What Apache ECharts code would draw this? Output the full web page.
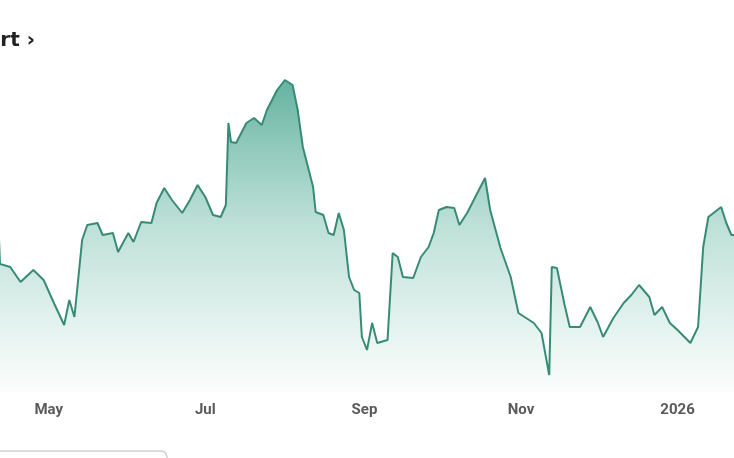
<!DOCTYPE html>
<html>
<head>
<meta charset="utf-8">
<script src="https://cdn.jsdelivr.net/npm/echarts@6/dist/echarts.min.js"></script>
<style>
  html, body { margin: 0; padding: 0; background: #ffffff; }
  #chart { width: 734px; height: 458px; }
</style>
</head>
<body>
<div id="chart"></div>
<script>
// ---- Data ----
const dates = [
  '2025-04-11','2025-04-12','2025-04-16','2025-04-20','2025-04-25','2025-04-29',
  '2025-05-03','2025-05-07','2025-05-09','2025-05-11','2025-05-14','2025-05-16',
  '2025-05-20','2025-05-22','2025-05-26','2025-05-28','2025-06-01','2025-06-03',
  '2025-06-06','2025-06-10','2025-06-12','2025-06-15','2025-06-18','2025-06-22',
  '2025-06-25','2025-06-28','2025-07-01','2025-07-04','2025-07-07','2025-07-09',
  '2025-07-10','2025-07-11','2025-07-13','2025-07-17','2025-07-20','2025-07-23',
  '2025-07-25','2025-07-29','2025-08-01','2025-08-04','2025-08-06','2025-08-08',
  '2025-08-12','2025-08-13','2025-08-16','2025-08-18','2025-08-20','2025-08-22',
  '2025-08-24','2025-08-26','2025-08-28','2025-08-30','2025-08-31','2025-09-02',
  '2025-09-04','2025-09-06','2025-09-10','2025-09-12','2025-09-14','2025-09-16',
  '2025-09-20','2025-09-23','2025-09-26','2025-09-28','2025-09-30','2025-10-03',
  '2025-10-06','2025-10-08','2025-10-11','2025-10-15','2025-10-18','2025-10-20',
  '2025-10-24','2025-10-28','2025-10-31','2025-11-03','2025-11-06','2025-11-09',
  '2025-11-12','2025-11-13','2025-11-15','2025-11-18','2025-11-20','2025-11-24',
  '2025-11-28','2025-12-01','2025-12-03','2025-12-07','2025-12-11','2025-12-14',
  '2025-12-17','2025-12-21','2025-12-23','2025-12-26','2025-12-29','2026-01-01',
  '2026-01-06','2026-01-09','2026-01-11','2026-01-13','2026-01-18','2026-01-20',
  '2026-01-22','2026-01-24'
];
const prices = [
  96, 64, 62.5, 55, 61, 56,
  44.5, 33.5, 46, 37.5, 76, 83.5,
  84.5, 78.5, 79.5, 70, 79.5, 75,
  85, 84.5, 94.5, 102, 96, 89.5,
  96, 103.5, 97.5, 88.5, 87.5, 93.5,
  134.5, 125, 124.5, 134.5, 137, 133.5,
  141, 151, 156, 153.5, 141, 122.5,
  102.5, 90, 88.5, 79.5, 78.5, 89.5,
  81, 57.5, 51, 49.5, 27.5, 21,
  34.5, 24.5, 26, 69.5, 67.5, 57.5,
  57, 67.5, 72.5, 79.5, 91, 92.5,
  92, 83.5, 89.5, 99.5, 107, 91,
  72, 57.5, 39.5, 37, 34.5, 29.5,
  8.5, 62.5, 62, 43.5, 32.5, 32.5,
  42.5, 34.5, 27.5, 37, 44.5, 48.5,
  53.5, 47.5, 38.5, 42.5, 34.5, 31,
  24.5, 32.5, 72.5, 87.5, 92.5, 84.5,
  78.5, 78.5
];
const tickDates = ['2025-05-01', '2025-07-01', '2025-09-01', '2025-11-01', '2026-01-01'];
const tickLabels = ['May', 'Jul', 'Sep', 'Nov', '2026'];
const viewStart = '2025-04-12';
const viewEnd = '2026-01-23';
const titleText = 'Chart \u203A';

function toTime(s) {
  const p = s.split('-').map(Number);
  return Date.UTC(p[0], p[1] - 1, p[2]);
}
const tickTimes = tickDates.map(toTime);
const seriesData = dates.map((d, i) => [toTime(d), prices[i]]);

const chart = echarts.init(document.getElementById('chart'), null, { renderer: 'canvas' });
chart.setOption({
  animation: false,
  backgroundColor: '#ffffff',
  grid: { left: 0, right: 0, top: 40, bottom: 66, containLabel: false },
  xAxis: {
    type: 'value',
    min: toTime(viewStart),
    max: toTime(viewEnd),
    axisLine: { show: false },
    axisTick: { show: false },
    splitLine: { show: false },
    axisLabel: {
      customValues: tickTimes,
      showMinLabel: true,
      showMaxLabel: true,
      hideOverlap: false,
      margin: 11,
      color: '#5a5a5a',
      fontSize: 15,
      fontWeight: 'bold',
      fontFamily: 'Roboto, "Liberation Sans", sans-serif',
      formatter: function (v) {
        for (let i = 0; i < tickTimes.length; i++) {
          if (Math.abs(tickTimes[i] - v) < 43200000) return tickLabels[i];
        }
        return '';
      }
    }
  },
  yAxis: {
    type: 'value',
    min: 0,
    max: 176,
    show: false,
    splitLine: { show: false }
  },
  series: [{
    type: 'line',
    data: seriesData,
    symbol: 'none',
    smooth: false,
    lineStyle: { color: '#378b76', width: 2 },
    areaStyle: {
      color: new echarts.graphic.LinearGradient(0, 0, 0, 1, [
        { offset: 0, color: 'rgba(24,140,112,0.95)' },
        { offset: 0.45, color: 'rgba(40,155,125,0.45)' },
        { offset: 1, color: 'rgba(60,170,140,0.03)' }
      ])
    }
  }],
  graphic: [
    {
      type: 'text',
      x: 35,
      y: 31,
      style: {
        text: titleText,
        font: 'bold 20px "DejaVu Sans", sans-serif',
        fill: '#222222',
        align: 'right',
        verticalAlign: 'top'
      }
    },
    {
      type: 'rect',
      shape: { x: -12, y: 451, width: 179, height: 24, r: 6 },
      style: { fill: 'rgba(0,0,0,0)', stroke: '#cfcfcf', lineWidth: 1.5 }
    }
  ]
});
</script>
</body>
</html>
